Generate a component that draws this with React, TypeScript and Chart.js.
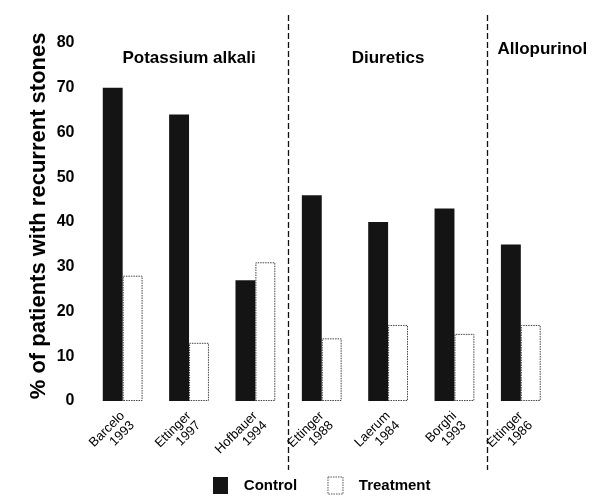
import React, { useEffect, useRef } from "react";
import { Chart, registerables } from "chart.js";

Chart.register(...registerables);

const studies: string[][] = [
  ["Barcelo", "1993"],
  ["Ettinger", "1997"],
  ["Hofbauer", "1994"],
  ["Ettinger", "1988"],
  ["Laerum", "1984"],
  ["Borghi", "1993"],
  ["Ettinger", "1986"],
];
const controlValues = [70, 64, 27, 46, 40, 43, 35];
const treatmentValues = [28, 13, 31, 14, 17, 15, 17];
const groupNames = ["Potassium alkali", "Diuretics", "Allopurinol"];
const yTicks = [0, 10, 20, 30, 40, 50, 60, 70, 80];

const FONT = "'Liberation Sans', Arial, Helvetica, sans-serif";

const overlayPlugin = {
  id: "overlay",
  afterDatasetsDraw(chart: any) {
    const ctx = chart.ctx;
    const meta = chart.getDatasetMeta(1);
    ctx.save();
    ctx.strokeStyle = "#444";
    ctx.lineWidth = 1;
    ctx.setLineDash([1.5, 1]);
    meta.data.forEach((bar: any) => {
      const p = bar.getProps(["x", "y", "base", "width"], true);
      const l = p.x - p.width / 2 + 0.5;
      const r = p.x + p.width / 2 - 0.5;
      ctx.beginPath();
      ctx.moveTo(l, p.base);
      ctx.lineTo(l, p.y + 0.5);
      ctx.lineTo(r, p.y + 0.5);
      ctx.lineTo(r, p.base - 0.5);
      ctx.lineTo(l, p.base - 0.5);
      ctx.stroke();
    });
    ctx.restore();
  },
  afterDraw(chart: any) {
    const ctx = chart.ctx;
    const x = chart.scales.x;
    const y = chart.scales.y;
    const div1 = (x.getPixelForValue(2) + x.getPixelForValue(3)) / 2;
    const div2 = (x.getPixelForValue(5) + x.getPixelForValue(6)) / 2;
    ctx.save();
    ctx.strokeStyle = "#111";
    ctx.lineWidth = 1.3;
    ctx.setLineDash([6, 3]);
    [div1, div2].forEach((d) => {
      ctx.beginPath();
      ctx.moveTo(Math.round(d) - 0.5, 15);
      ctx.lineTo(Math.round(d) - 0.5, 470);
      ctx.stroke();
    });
    ctx.setLineDash([]);
    ctx.fillStyle = "#000";
    ctx.font = `bold 17px ${FONT}`;
    ctx.textAlign = "center";
    ctx.textBaseline = "middle";
    ctx.fillText(groupNames[0], x.getPixelForValue(1), y.getPixelForValue(76.5));
    ctx.fillText(groupNames[1], x.getPixelForValue(4), y.getPixelForValue(76.5));
    ctx.fillText(groupNames[2], (div2 + chart.width) / 2 - 2, y.getPixelForValue(78.7));
    ctx.restore();
  },
};

export default function App() {
  const ref = useRef<HTMLCanvasElement | null>(null);
  useEffect(() => {
    document.body.style.margin = "0";
    const canvas = ref.current;
    if (!canvas) return;
    const chart = new Chart(canvas, {
      type: "bar",
      data: {
        labels: studies,
        datasets: [
          {
            label: "Control",
            data: controlValues,
            backgroundColor: "#141414",
            borderWidth: 0,
            categoryPercentage: 0.6,
            barPercentage: 1.0,
          },
          {
            label: "Treatment",
            data: treatmentValues,
            backgroundColor: "#ffffff",
            borderWidth: 0,
            categoryPercentage: 0.6,
            barPercentage: 1.0,
          },
        ],
      },
      options: {
        responsive: false,
        animation: false,
        layout: { padding: { top: 43, right: 47, left: 0, bottom: 0 } },
        plugins: {
          tooltip: { enabled: false },
          legend: {
            position: "bottom",
            fullSize: false,
            labels: {
              font: { family: FONT, size: 15, weight: "bold" },
              color: "#000",
              boxWidth: 15,
              boxHeight: 17,
              padding: 10,
              generateLabels: () => [
                {
                  text: "  Control     ",
                  fillStyle: "#141414",
                  strokeStyle: "#141414",
                  lineWidth: 0,
                  datasetIndex: 0,
                  hidden: false,
                },
                {
                  text: "  Treatment",
                  fillStyle: "#ffffff",
                  strokeStyle: "#555",
                  lineWidth: 1,
                  lineDash: [1.5, 1],
                  datasetIndex: 1,
                  hidden: false,
                },
              ],
            },
          },
        },
        scales: {
          x: {
            grid: { display: false, drawTicks: false },
            border: { display: false },
            ticks: {
              minRotation: 45,
              maxRotation: 45,
              color: "#000",
              padding: 8,
              font: { family: FONT, size: 13, lineHeight: 1.05 },
            },
            afterFit: (s: any) => {
              s.height = 66;
            },
          },
          y: {
            min: 0,
            max: 80,
            afterBuildTicks: (s: any) => {
              s.ticks = yTicks.map((v) => ({ value: v }));
            },
            grid: { display: false, drawTicks: false },
            border: { display: false },
            ticks: {
              color: "#000",
              padding: 15,
              font: { family: FONT, size: 16, weight: "bold" },
            },
            title: {
              display: true,
              text: "  % of patients with recurrent stones",
              color: "#000",
              font: { family: FONT, size: 22, weight: "bold" },
              padding: { top: 26, bottom: 0 },
            },
            afterFit: (s: any) => {
              s.width = 89.5;
            },
          },
        },
      },
      plugins: [overlayPlugin],
    });
    return () => chart.destroy();
  }, []);
  return <canvas ref={ref} width={601} height={504} style={{ display: "block" }} />;
}
